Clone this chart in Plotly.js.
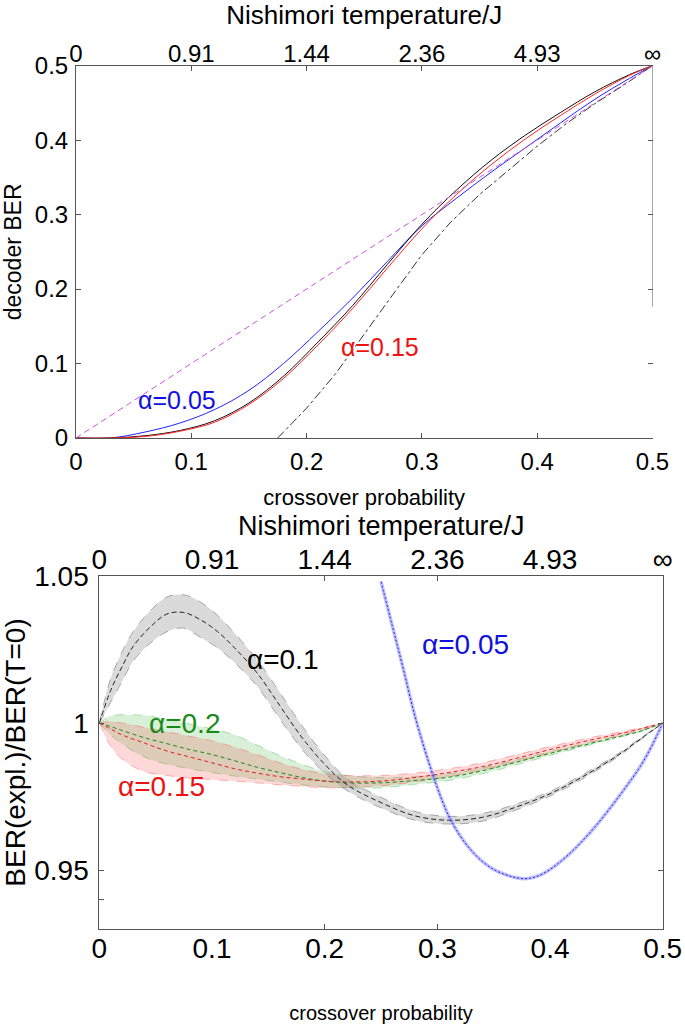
<!DOCTYPE html>
<html>
<head>
<meta charset="utf-8">
<script src="https://cdn.plot.ly/plotly-3.0.1.min.js"></script>
<style>html,body{margin:0;padding:0;background:#fff;}#chart{width:685px;height:1024px;}</style>
</head>
<body>
<div id="chart"></div>
<script>
// ---------- Top panel: decoder BER vs crossover probability ----------
const topP = [0, 0.03, 0.06, 0.09, 0.12, 0.15, 0.18, 0.21, 0.24, 0.27, 0.30, 0.33, 0.36, 0.39, 0.42, 0.45, 0.48, 0.5];
const berAlpha005 = [0, 0, 0.008, 0.02, 0.038, 0.064, 0.1, 0.143, 0.188, 0.237, 0.285, 0.322, 0.357, 0.39, 0.423, 0.455, 0.483, 0.5];
const berBlack    = [0, 0, 0.003, 0.01, 0.023, 0.047, 0.083, 0.129, 0.178, 0.233, 0.287, 0.333, 0.373, 0.407, 0.437, 0.465, 0.488, 0.5];
const berAlpha015 = [0, 0, 0.002, 0.009, 0.021, 0.045, 0.08, 0.125, 0.174, 0.228, 0.281, 0.327, 0.367, 0.402, 0.433, 0.462, 0.487, 0.5];
const dashDotP    = [0.175, 0.2, 0.225, 0.25, 0.275, 0.3, 0.325, 0.35, 0.375, 0.4, 0.425, 0.45, 0.475, 0.5];
const dashDotBER  = [0, 0.04, 0.086, 0.14, 0.193, 0.246, 0.29, 0.327, 0.36, 0.392, 0.422, 0.449, 0.474, 0.5];
const rawP   = [0, 0.5];
const rawBER = [0, 0.5];

// ---------- Bottom panel: BER(expl.)/BER(T=0) ----------
const p01 = [0, 0.01, 0.02, 0.03, 0.045, 0.06, 0.075, 0.09, 0.105, 0.12, 0.14, 0.16, 0.18, 0.2, 0.22, 0.25, 0.28, 0.31, 0.34, 0.37, 0.40, 0.43, 0.46, 0.48, 0.5];
const a01Mid = [1.0, 1.011, 1.019, 1.026, 1.0325, 1.037, 1.0375, 1.035, 1.031, 1.0255, 1.017, 1.006, 0.995, 0.986, 0.979, 0.973, 0.9685, 0.967, 0.968, 0.9715, 0.976, 0.982, 0.989, 0.9945, 1.0];
const a01Up  = [1.0, 1.015, 1.024, 1.031, 1.038, 1.0428, 1.0435, 1.041, 1.0365, 1.0305, 1.0215, 1.0105, 0.999, 0.989, 0.981, 0.9748, 0.970, 0.9683, 0.9693, 0.9725, 0.9768, 0.9827, 0.9895, 0.9948, 1.0];
const a01Low = [1.0, 1.007, 1.014, 1.021, 1.027, 1.031, 1.0322, 1.029, 1.0255, 1.0205, 1.0125, 1.0015, 0.991, 0.983, 0.977, 0.9712, 0.967, 0.9657, 0.9667, 0.9705, 0.9752, 0.9813, 0.9885, 0.9942, 1.0];

const p02 = [0, 0.01, 0.02, 0.04, 0.06, 0.08, 0.1, 0.12, 0.14, 0.16, 0.18, 0.2, 0.22, 0.25, 0.28, 0.31, 0.34, 0.37, 0.4, 0.43, 0.46, 0.48, 0.5];
const a02Mid = [1.0, 0.9988, 0.9975, 0.995, 0.993, 0.991, 0.9893, 0.9872, 0.985, 0.9832, 0.9815, 0.9803, 0.9797, 0.9797, 0.9805, 0.9816, 0.9838, 0.9867, 0.9897, 0.9925, 0.9953, 0.9972, 1.0];
const a02Up  = [1.0, 1.0024, 1.0028, 1.0026, 1.0012, 0.9997, 0.998, 0.996, 0.9925, 0.989, 0.986, 0.9835, 0.9822, 0.9815, 0.9818, 0.9828, 0.9848, 0.9875, 0.9903, 0.993, 0.9956, 0.9974, 1.0];
const a02Low = [1.0, 0.996, 0.993, 0.9885, 0.986, 0.9845, 0.9832, 0.982, 0.981, 0.98, 0.979, 0.9783, 0.978, 0.978, 0.9792, 0.9805, 0.9828, 0.9858, 0.989, 0.992, 0.995, 0.997, 1.0];
const a015Mid = [1.0, 0.998, 0.996, 0.9932, 0.9905, 0.9885, 0.9865, 0.9845, 0.983, 0.9818, 0.981, 0.9803, 0.98, 0.9803, 0.9815, 0.9832, 0.9852, 0.988, 0.991, 0.9937, 0.9962, 0.998, 1.0];
const a015Up  = [1.0, 1.0005, 1.0, 0.9985, 0.997, 0.9955, 0.994, 0.9918, 0.9893, 0.9865, 0.9843, 0.9828, 0.9822, 0.9822, 0.983, 0.9845, 0.9865, 0.9892, 0.992, 0.9946, 0.9968, 0.9983, 1.0];
const a015Low = [1.0, 0.9922, 0.9878, 0.9835, 0.9822, 0.9813, 0.9808, 0.9803, 0.9797, 0.979, 0.9785, 0.978, 0.9782, 0.9787, 0.98, 0.9818, 0.984, 0.9868, 0.9898, 0.9928, 0.9956, 0.9975, 1.0];

const p005 = [0.25, 0.26, 0.27, 0.28, 0.29, 0.30, 0.31, 0.32, 0.33, 0.34, 0.35, 0.36, 0.37, 0.38, 0.39, 0.40, 0.41, 0.42, 0.43, 0.44, 0.45, 0.46, 0.47, 0.48, 0.49, 0.5];
const a005 = [1.048, 1.033, 1.018, 1.0025, 0.9895, 0.978, 0.9685, 0.9618, 0.9568, 0.953, 0.9503, 0.9486, 0.9475, 0.9472, 0.9482, 0.9503, 0.9532, 0.9566, 0.9605, 0.9648, 0.9695, 0.9745, 0.9797, 0.9852, 0.992, 1.0];

// ---------- Axis ticks ----------
const probTicks = [0, 0.1, 0.2, 0.3, 0.4, 0.5];
const probLabels = ['0', '0.1', '0.2', '0.3', '0.4', '0.5'];
const nishimoriLabels = ['0', '0.91', '1.44', '2.36', '4.93', '\u221E'];
const berTicks = [0, 0.1, 0.2, 0.3, 0.4, 0.5];
const berLabels = ['0', '0.1', '0.2', '0.3', '0.4', '0.5'];
const ratioTicks = [0.94, 0.95, 1, 1.05];
const ratioLabels = ['', '0.95', '1', '1.05'];

const FONT = 'Liberation Sans, Arial, Helvetica, sans-serif';
const AX = '#555555';

const traces = [
  // top panel
  {x: rawP, y: rawBER, xaxis: 'x3', yaxis: 'y', mode: 'lines', line: {color: '#cc55dd', width: 1, dash: '6px,4px'}},
  {x: dashDotP, y: dashDotBER, xaxis: 'x', yaxis: 'y3', mode: 'lines', line: {color: '#333333', width: 1, dash: 'dashdot'}},
  {x: topP, y: berAlpha005, xaxis: 'x', yaxis: 'y', mode: 'lines', line: {color: '#2222ff', width: 1, shape: 'spline'}},
  {x: topP, y: berBlack, xaxis: 'x', yaxis: 'y', mode: 'lines', line: {color: '#111111', width: 1, shape: 'spline'}},
  {x: topP, y: berAlpha015, xaxis: 'x', yaxis: 'y', mode: 'lines', line: {color: '#ff2222', width: 1, shape: 'spline'}},

  // bottom panel: alpha=0.2 band (green)
  {x: p02, y: a02Low, xaxis: 'x2', yaxis: 'y2', mode: 'lines', line: {color: 'rgba(0,150,0,0.35)', width: 0.8, dash: 'dash', shape: 'spline'}},
  {x: p02, y: a02Up, xaxis: 'x2', yaxis: 'y2', mode: 'lines', fill: 'tonexty', fillcolor: 'rgba(60,180,60,0.20)', line: {color: 'rgba(0,150,0,0.35)', width: 0.8, dash: 'dash', shape: 'spline'}},
  // alpha=0.15 band (red)
  {x: p02, y: a015Low, xaxis: 'x2', yaxis: 'y2', mode: 'lines', line: {color: 'rgba(255,60,60,0.45)', width: 0.8, dash: 'dash', shape: 'spline'}},
  {x: p02, y: a015Up, xaxis: 'x2', yaxis: 'y2', mode: 'lines', fill: 'tonexty', fillcolor: 'rgba(240,60,60,0.20)', line: {color: 'rgba(255,60,60,0.45)', width: 0.8, dash: 'dash', shape: 'spline'}},
  {x: p02, y: a02Mid, xaxis: 'x2', yaxis: 'y2', mode: 'lines', line: {color: '#1a8a1a', width: 1, dash: '4px,3px', shape: 'spline'}},
  {x: p02, y: a015Mid, xaxis: 'x2', yaxis: 'y2', mode: 'lines', line: {color: '#e02020', width: 1, dash: '4px,3px', shape: 'spline'}},
  // alpha=0.1 band (black/grey)
  {x: p01, y: a01Low, xaxis: 'x2', yaxis: 'y2', mode: 'lines', line: {color: 'rgba(90,90,90,0.6)', width: 0.8, dash: 'dash', shape: 'spline'}},
  {x: p01, y: a01Up, xaxis: 'x2', yaxis: 'y2', mode: 'lines', fill: 'tonexty', fillcolor: 'rgba(140,140,140,0.32)', line: {color: 'rgba(90,90,90,0.6)', width: 0.8, dash: 'dash', shape: 'spline'}},
  {x: p01, y: a01Mid, xaxis: 'x2', yaxis: 'y2', mode: 'lines', line: {color: '#222222', width: 1, dash: '5px,3px', shape: 'spline'}},
  // alpha=0.05 (blue)
  {x: p005, y: a005, xaxis: 'x4', yaxis: 'y2', mode: 'lines', line: {color: 'rgba(110,110,255,0.45)', width: 3.5, shape: 'spline'}},
  {x: p005, y: a005, xaxis: 'x5', yaxis: 'y4', mode: 'lines', line: {color: '#2828e0', width: 1, dash: '2px,2px', shape: 'spline'}}
];

const tickCommon = {ticks: 'inside', ticklen: 5, tickcolor: AX, showgrid: false, zeroline: false, linecolor: AX, linewidth: 1, fixedrange: true};

const layout = {
  width: 685, height: 1024,
  margin: {l: 0, r: 0, t: 0, b: 0},
  paper_bgcolor: '#ffffff', plot_bgcolor: '#ffffff',
  showlegend: false,
  font: {family: FONT, color: '#000000'},
  // top panel
  xaxis: Object.assign({}, tickCommon, {
    domain: [0.1109, 0.9526], anchor: 'y', range: [0, 0.5],
    tickmode: 'array', tickvals: probTicks, ticktext: probLabels,
    showline: true, tickfont: {size: 24}, ticklabelstandoff: 2,
    title: {text: 'crossover probability', font: {size: 22}, standoff: 15}
  }),
  xaxis3: Object.assign({}, tickCommon, {
    overlaying: 'x', anchor: 'y', side: 'top', range: [0, 0.5],
    tickmode: 'array', tickvals: probTicks, ticktext: nishimoriLabels,
    showline: true, tickfont: {size: 24}, ticklabelstandoff: -7,
    title: {text: 'Nishimori temperature/J', font: {size: 26}, standoff: 12}
  }),
  yaxis: Object.assign({}, tickCommon, {
    domain: [0.5723, 0.9358], anchor: 'x', range: [0, 0.5],
    tickmode: 'array', tickvals: berTicks, ticktext: berLabels,
    showline: true, tickfont: {size: 24}, ticklabelstandoff: 2,
    title: {text: 'decoder BER', font: {size: 23}, standoff: 6}
  }),
  yaxis3: Object.assign({}, tickCommon, {
    overlaying: 'y', anchor: 'x', side: 'right', range: [0, 0.5],
    tickmode: 'array', tickvals: berTicks, showticklabels: false, showline: false
  }),
  // bottom panel
  xaxis2: Object.assign({}, tickCommon, {
    domain: [0.1450, 0.9675], anchor: 'y2', range: [0, 0.5],
    tickmode: 'array', tickvals: probTicks, ticktext: probLabels, ticks: '',
    showline: true, tickfont: {size: 28}, ticklabelstandoff: -6,
    title: {text: 'crossover probability', font: {size: 20}, standoff: 46}
  }),
  xaxis4: Object.assign({}, tickCommon, {
    overlaying: 'x2', anchor: 'y2', side: 'top', range: [0, 0.5],
    tickmode: 'array', tickvals: probTicks, ticktext: nishimoriLabels, ticks: '',
    showline: true, tickfont: {size: 28}, ticklabelstandoff: -6
  }),
  xaxis5: Object.assign({}, tickCommon, {
    overlaying: 'x2', anchor: 'y2', side: 'bottom', range: [0, 0.5],
    tickmode: 'array', tickvals: [0.2, 0.3], showticklabels: false, showline: false, mirror: 'ticks'
  }),
  yaxis2: Object.assign({}, tickCommon, {
    domain: [0.0925, 0.4378], anchor: 'x2', range: [0.93, 1.05],
    tickmode: 'array', tickvals: ratioTicks, ticktext: ratioLabels,
    showline: true, mirror: true, tickfont: {size: 28}, ticklabelstandoff: 4,
    title: {text: 'BER(expl.)/BER(T=0)', font: {size: 28}, standoff: 2}
  }),
  yaxis4: Object.assign({}, tickCommon, {
    overlaying: 'y2', anchor: 'x2', side: 'right', range: [0.93, 1.05],
    tickmode: 'array', tickvals: [0.95, 1], showticklabels: false, showline: false
  }),
  shapes: [
    {type: 'line', xref: 'x', yref: 'y', x0: 0.5, x1: 0.5, y0: 0.176, y1: 0.5, line: {color: AX, width: 1}}
  ],
  annotations: [
    {xref: 'paper', yref: 'paper', x: 0.5563, y: 0.4863, text: 'Nishimori temperature/J', showarrow: false, font: {size: 27}},
    {xref: 'x', yref: 'y', x: 0.0876, y: 0.051, text: '\u03B1=0.05', showarrow: false, font: {size: 25, color: '#1010e0'}},
    {xref: 'x', yref: 'y', x: 0.2637, y: 0.1226, text: '\u03B1=0.15', showarrow: false, font: {size: 25, color: '#ee1111'}},
    {xref: 'x2', yref: 'y2', x: 0.163, y: 1.0214, text: '\u03B1=0.1', showarrow: false, font: {size: 28, color: '#000000'}},
    {xref: 'x2', yref: 'y2', x: 0.076, y: 1.0, text: '\u03B1=0.2', showarrow: false, font: {size: 28, color: '#1a8a1a'}},
    {xref: 'x2', yref: 'y2', x: 0.0554, y: 0.9784, text: '\u03B1=0.15', showarrow: false, font: {size: 28, color: '#ee1111'}},
    {xref: 'x2', yref: 'y2', x: 0.3253, y: 1.0265, text: '\u03B1=0.05', showarrow: false, font: {size: 28, color: '#1010e0'}}
  ]
};

Plotly.newPlot('chart', traces, layout, {staticPlot: true, displayModeBar: false});
</script>
</body>
</html>
